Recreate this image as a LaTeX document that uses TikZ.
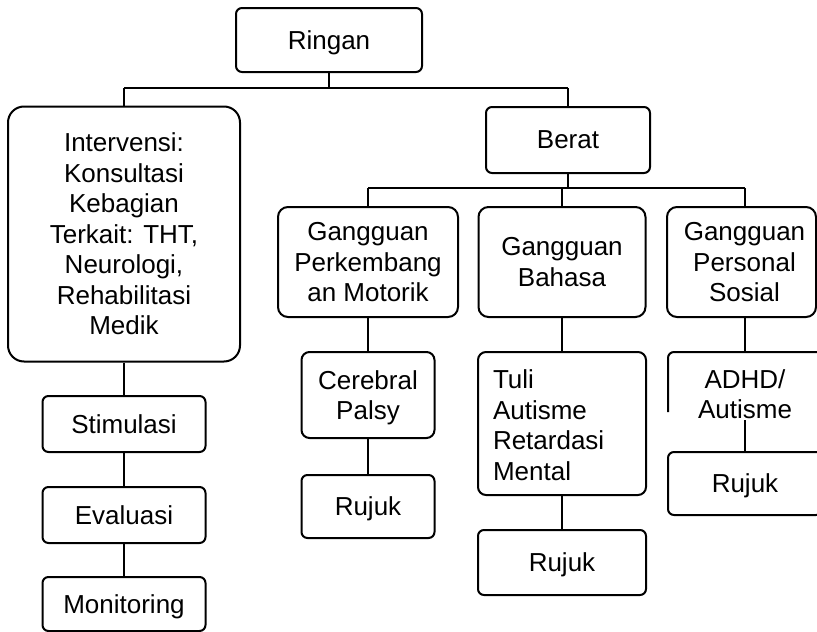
\documentclass[tikz,border=0pt]{standalone}
\usepackage{fontspec}
\setmainfont{Liberation Sans}
\begin{document}
\begin{tikzpicture}[x=1pt, y=-1pt, line width=2pt, line join=round,
  box/.style={draw, rounded corners=6pt, align=center, inner sep=0pt,
    text depth=0pt, font=\fontsize{26}{30.5}\selectfont},
  bigcorner/.style={rounded corners=10pt},
  sz/.style 2 args={minimum width=#1pt, minimum height=#2pt},
  label/.style={align=center, inner sep=0pt, text depth=0pt,
    font=\fontsize{26}{30.5}\selectfont}]
\useasboundingbox (0,0) rectangle (817,632);
\clip (0,0) rectangle (817,632);

% top level
\node[box, sz={186}{64}] (ringan) at (329,40) {Ringan};
\node[box, rounded corners=16pt, sz={232}{255}] (interv) at (124,234)
  {Intervensi:\\Konsultasi\\Kebagian\\Terkait: THT,\\Neurologi,\\Rehabilitasi\\Medik};
\node[box, sz={164}{66}] (berat) at (568,140) {Berat};

% left column
\node[box, sz={163}{56}] (stim) at (124,424) {Stimulasi};
\node[box, sz={163}{56}] (eval) at (124,515) {Evaluasi};
\node[box, sz={163}{54}] (monit) at (124,604) {Monitoring};

% categories under "Berat"
\node[box, bigcorner, sz={180}{110}] (motorik) at (368,262) {Gangguan\\Perkembang\\an Motorik};
\node[box, bigcorner, sz={167}{110}] (bahasa) at (562,262) {Gangguan\\Bahasa};
\node[box, bigcorner, sz={149}{110}] (personal) at (741.5,262) {\hspace*{6pt}Gangguan\\\hspace*{6pt}Personal\\\hspace*{6pt}Sosial};

% motor development branch
\node[box, rounded corners=8pt, sz={133}{86}] (cerebral) at (368,395) {Cerebral\\Palsy};
\node[box, sz={133}{63}] (rujuka) at (368,506.5) {Rujuk};

% language branch: left-aligned list inside the box
\node[box, rounded corners=8pt, sz={168}{143}] (tuli) at (562,423.5) {};
\node[label, align=left, anchor=west] (tulitext) at (492,425)
  {Tuli\\Autisme\\Retardasi\\Mental};
\node[box, sz={168}{65}] (rujukb) at (562,562.5) {Rujuk};

% personal-social branch
\coordinate (pcol) at (745,0);
\draw[rounded corners=6pt] (668,412) -- (668,352) -- (830,352);
\node[label] (adhd) at (745,394) {ADHD/\\Autisme};
\coordinate (adhdout) at (745,420);
\node[box, sz={154}{63}] (rujukc) at (745,483.5) {Rujuk};

% buses
\coordinate (bus1) at (0,88);
\coordinate (bus2) at (0,188);

% connectors
\draw (ringan.south) -- (ringan.south |- bus1);
\draw (interv.north |- bus1) -- (berat.north |- bus1);
\draw (interv.north |- bus1) -- (interv.north);
\draw (berat.north |- bus1) -- (berat.north);

\draw (berat.south) -- (berat.south |- bus2);
\draw (motorik.north |- bus2) -- (pcol |- bus2);
\draw (motorik.north |- bus2) -- (motorik.north);
\draw (bahasa.north |- bus2) -- (bahasa.north);
\draw (pcol |- bus2) -- (pcol |- personal.north);

\draw (interv.south) -- (stim.north);
\draw (stim.south) -- (eval.north);
\draw (eval.south) -- (monit.north);

\draw (motorik.south) -- (cerebral.north);
\draw (cerebral.south) -- (rujuka.north);

\draw (bahasa.south) -- (tuli.north);
\draw (tuli.south) -- (rujukb.north);

\draw (pcol |- personal.south) -- (pcol |- 0,352);
\draw (adhdout) -- (rujukc.north);
\end{tikzpicture}
\end{document}
